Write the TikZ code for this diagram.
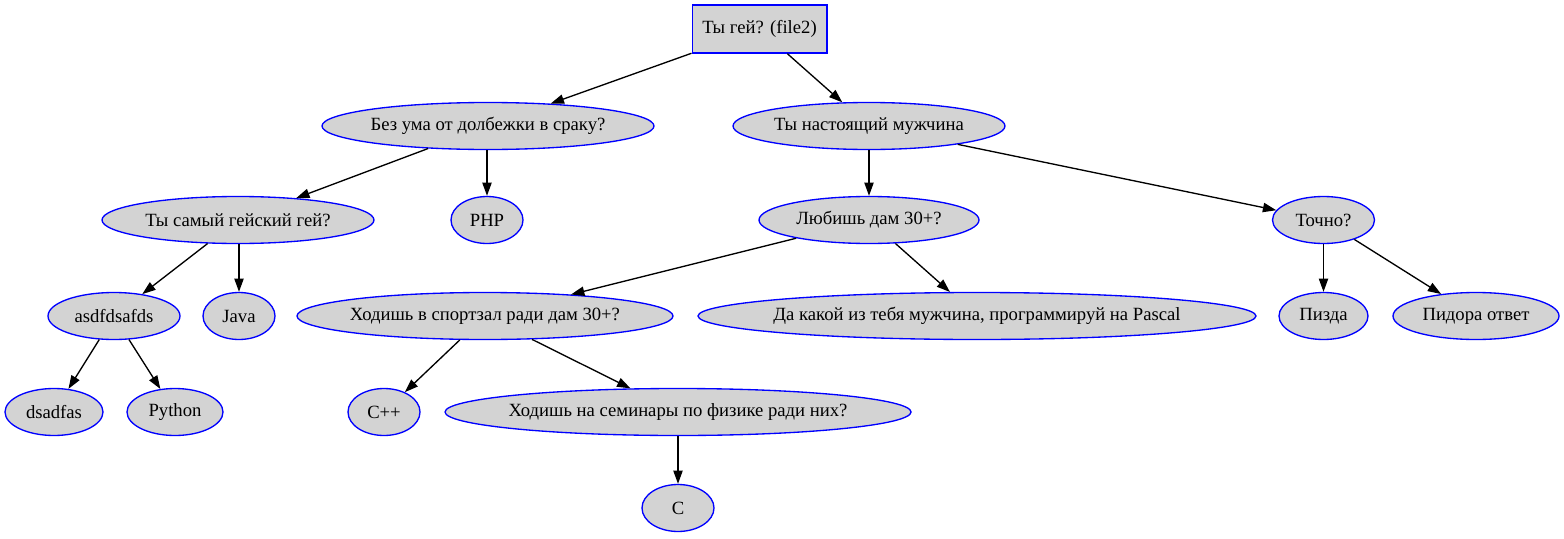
\documentclass[tikz,border=0pt]{standalone}
\usepackage{fontspec}
\setmainfont{Liberation Serif}
\usetikzlibrary{shapes.geometric,arrows.meta}
\definecolor{nodefill}{HTML}{D3D3D3}
\newcommand{\zb}[1]{\makebox[0pt]{#1}}
\begin{document}
\begin{tikzpicture}[x=0.75pt,y=-0.75pt,
  every node/.style={font=\fontsize{14pt}{16pt}\selectfont, inner sep=0pt},
  gnode/.style={ellipse, draw=blue, fill=nodefill, line width=1pt, minimum height=35.25pt},
  erx/.style={minimum width=#1*1.5pt},
  gbox/.style={rectangle, draw=blue, fill=nodefill, line width=1pt, minimum height=36pt, minimum width=101pt},
  edge/.style={draw=black, line width=1pt, -{Triangle[length=10pt,width=7pt]}}]
\path[use as bounding box] (0,0) rectangle (1564,539);
\node[gbox] (root) at (759.5,29) {\zb{Ты гей? (file2)}};
\node[gnode,erx=166] (bez) at (488,126) {\zb{Без ума от долбежки в сраку?}};
\node[gnode,erx=136] (nast) at (869,126) {\zb{Ты настоящий мужчина}};
\node[gnode,erx=136] (samy) at (238,220) {\zb{Ты самый гейский гей?}};
\node[gnode,erx=36] (php) at (487,220) {\zb{PHP}};
\node[gnode,erx=110] (lub) at (869,220) {\zb{Любишь дам 30+?}};
\node[gnode,erx=51] (tochno) at (1323.5,220) {\zb{Точно?}};
\node[gnode,erx=66] (asdf) at (114,316) {\zb{asdfdsafds}};
\node[gnode,erx=36] (java) at (239,316) {\zb{Java}};
\node[gnode,erx=188] (sport) at (485,316) {\zb{Ходишь в спортзал ради дам 30+?}};
\node[gnode,erx=279] (da) at (977,316) {\zb{Да какой из тебя мужчина, программируй на Pascal}};
\node[gnode,erx=44.5] (pizda) at (1323.5,316) {\zb{Пизда}};
\node[gnode,erx=83] (pidora) at (1476,316) {\zb{Пидора ответ}};
\node[gnode,erx=49] (dsadfas) at (54,412) {\zb{dsadfas}};
\node[gnode,erx=48] (python) at (175,412) {\zb{Python}};
\node[gnode,erx=36] (cpp) at (384,412) {\zb{C++}};
\node[gnode,erx=233] (sem) at (678,412) {\zb{Ходишь на семинары по физике ради них?}};
\node[gnode,erx=36] (c) at (678,508) {\zb{C}};
\draw[edge] (root) -- (bez);
\draw[edge] (root) -- (nast);
\draw[edge] (bez) -- (samy);
\draw[edge] (bez.south -| php) -- (php);
\draw[edge] (nast) -- (lub);
\draw[edge] (nast) -- (tochno);
\draw[edge] (samy) -- (asdf);
\draw[edge] (samy.south -| java) -- (java);
\draw[edge] (lub) -- (sport);
\draw[edge] (lub) -- (da);
\draw[edge] (tochno) -- (pizda);
\draw[edge] (tochno) -- (pidora);
\draw[edge] (asdf) -- (dsadfas);
\draw[edge] (asdf) -- (python);
\draw[edge] (sport) -- (cpp);
\draw[edge] (sport) -- (sem);
\draw[edge] (sem) -- (c);
\end{tikzpicture}
\end{document}
